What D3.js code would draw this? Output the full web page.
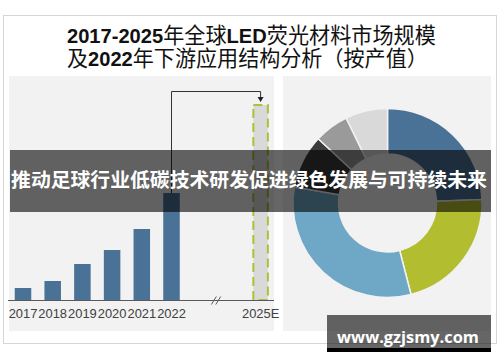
<!DOCTYPE html>
<html><head><meta charset="utf-8">
<script src="https://cdn.jsdelivr.net/npm/d3@7"></script>
<style>html,body{margin:0;padding:0;background:#fff;}svg{display:block;}</style>
</head><body>
<script>
const years = ['2017','2018','2019','2020','2021','2022','2023','2024','2025E'];
const tickLabels = ['2017','2018','2019','2020','2021','2022','','','2025E'];
const barValues = [12, 19, 36, 50, 71, 107, null, null, 196];
const pieLabels = ['A','B','C','D','E','F'];
const pieValues = [24.4, 21.6, 31.7, 9.2, 5.9, 7.2];
const pieColors = ['#4a7196','#b3bd30','#6fa8c7','#3b3b3b','#9a9a9a','#d9d9d9'];
const titleLines = [
  [['2017-2025',1],['年全球',0],['LED',1],['荧光材料市场规模',0]],
  [['及',0],['2022',1],['年下游应用结构分析（按产值）',0]]
];
const bannerText = '推动足球行业低碳技术研发促进绿色发展与可持续未来';
const siteText = 'www.gzjsmy.com';

const W = 500, H = 362;
const svg = d3.select('body').append('svg').attr('width', W).attr('height', H);

// fit a single text element's font size to a target width
function fitText(t, target, base){
  t.attr('font-size', base);
  const w = t.node().getComputedTextLength();
  t.attr('font-size', base * target / w);
}

// outer frame
svg.append('rect').attr('x',3.5).attr('y',15.5).attr('width',493).attr('height',328)
  .attr('fill','#fff').attr('stroke','#d6d6d6');

// title: separate text pieces laid out sequentially, scaled to target width
const tl = [{y:43,w:369},{y:66,w:361}];
titleLines.forEach((parts,i)=>{
  const els = parts.map(p=> svg.append('text').attr('y',tl[i].y).attr('fill','#111')
      .attr('font-family', p[1] ? 'Liberation Sans, Arial, sans-serif' : 'Noto Sans CJK SC, sans-serif')
      .attr('font-weight', p[1] ? 700 : 400)
      .attr('font-size', p[1] ? 20 : 21).text(p[0]));
  const widths = els.map(e=>e.node().getComputedTextLength());
  const total = d3.sum(widths);
  const k = tl[i].w / total;
  let cx = 67;
  els.forEach((e,j)=>{
    const fs = +e.attr('font-size') * k;
    e.attr('font-size', fs).attr('x', cx);
    cx += e.node().getComputedTextLength();
  });
});

// panels
svg.append('rect').attr('x',9).attr('y',76).attr('width',265).attr('height',255).attr('fill','#f2f2f2');
svg.append('rect').attr('x',283).attr('y',76).attr('width',208).attr('height',255).attr('fill','#f2f2f2');

// bar chart
const x = d3.scaleBand().domain(years).range([8.15, 275.45]).paddingInner(0.444).paddingOuter(0.222);
const y = d3.scaleLinear().domain([0,200]).range([300,100]);
const g = svg.append('g');
const data = years.map((k,i)=>({k, v:barValues[i]})).filter(d=>d.v!=null);
g.selectAll('rect.bar').data(data.filter(d=>d.k!=='2025E')).join('rect')
  .attr('x',d=>x(d.k)).attr('width',x.bandwidth())
  .attr('y',d=>y(d.v)).attr('height',d=>y(0)-y(d.v)).attr('fill','#4a7196');
const est = data.find(d=>d.k==='2025E');
g.append('rect').attr('x',x(est.k)+1).attr('width',x.bandwidth()-2)
  .attr('y',y(est.v)+1).attr('height',y(0)-y(est.v)-1)
  .attr('fill','#d9d9d9').attr('stroke','#a9c236').attr('stroke-width',2)
  .attr('stroke-dasharray','9,5');

// axis
const axis = d3.axisBottom(x).tickSize(0).tickPadding(6).tickFormat((d,i)=>tickLabels[i]);
const ag = g.append('g').attr('transform','translate(0,300)').call(axis);
ag.select('.domain').attr('d','M8,0.5H274').attr('stroke','#595959');
ag.selectAll('text').attr('font-family','Liberation Sans, Arial, sans-serif').attr('font-size',12.9).attr('fill','#404040').attr('dy','0.9em');
// break marks
const bx = (x('2023')+x('2024')+x.bandwidth())/2;
[-2.2,2.2].forEach(o=>{
  g.append('line').attr('x1',bx+o-2.5).attr('y1',304.5).attr('x2',bx+o+2.5).attr('y2',296.5)
    .attr('stroke','#595959').attr('stroke-width',1);
});

// arrow
const x22 = x('2022')+x.bandwidth()/2, x25 = x('2025E')+x.bandwidth()/2;
const topY = 91.5;
g.append('path').attr('d',`M${x22},${y(107)}V${topY}H${x25}V${y(196)-6}`)
  .attr('fill','none').attr('stroke','#333').attr('stroke-width',1);
g.append('path').attr('d',`M${x25-3},${y(196)-7}L${x25+3},${y(196)-7}L${x25},${y(196)-2}Z`).attr('fill','#222');

// donut
const pie = d3.pie().sort(null).value(d=>d)(pieValues);
const arc = d3.arc().innerRadius(49).outerRadius(94.5);
svg.append('g').attr('transform','translate(387.5,203)')
  .selectAll('path').data(pie).join('path')
  .attr('d',arc).attr('fill',(d,i)=>pieColors[i]).attr('stroke','#f2f2f2').attr('stroke-width',1.5);

// banner overlay
svg.append('rect').attr('x',10).attr('y',150).attr('width',481).attr('height',62).attr('fill','#000').attr('opacity',0.6);
const bt = svg.append('text').attr('x',249).attr('y',187).attr('text-anchor','middle')
  .attr('font-family','Noto Sans CJK SC, sans-serif').attr('font-weight',700)
  .attr('fill','#fff').text(bannerText);
fitText(bt, 476, 20);

// site watermark box
svg.append('rect').attr('x',327).attr('y',315).attr('width',164).attr('height',33).attr('fill','#000').attr('opacity',0.6);
svg.append('rect').attr('x',327).attr('y',348).attr('width',164).attr('height',4).attr('fill','#000');
const st = svg.append('text').attr('x',408).attr('y',343).attr('text-anchor','middle')
  .attr('font-family','Open Sans, Liberation Sans, sans-serif').attr('font-weight',700)
  .attr('fill','#fff').text(siteText);
fitText(st, 142, 19);
</script>
</body></html>
